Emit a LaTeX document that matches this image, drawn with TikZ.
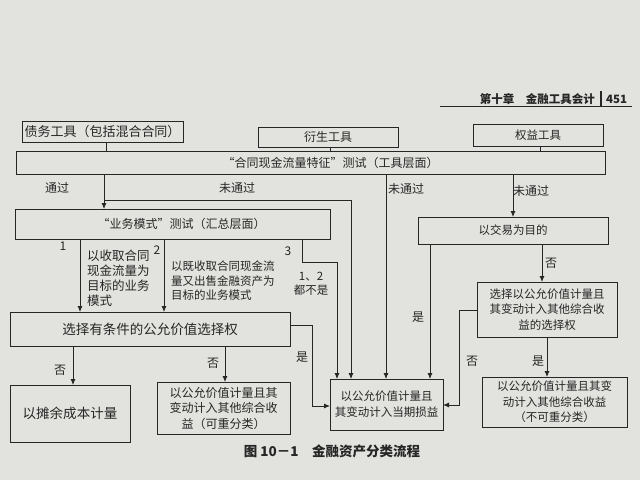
\documentclass[tikz,border=0pt]{standalone}
\usepackage{fontspec}
\setmainfont{Noto Sans CJK SC}
\usetikzlibrary{arrows.meta}
\definecolor{paper}{RGB}{226,226,222}
\definecolor{ink}{RGB}{38,38,38}
\newcommand\fsz[2]{\fontsize{#1}{#2}\selectfont}
\begin{document}
\begin{tikzpicture}[x=1pt,y=-1pt,
  box/.style={draw=ink, line width=0.8pt, fill=paper, inner sep=0pt, outer sep=0pt,
              align=center, text=ink, font=\fsz{12}{15.5}},
  lbl/.style={inner sep=0pt, text=ink, font=\fsz{12}{15}},
  ln/.style={draw=ink, line width=0.8pt},
  arr/.style={draw=ink, line width=0.8pt, -{Latex[length=6pt,width=5pt]}}]
\fill[paper] (0,0) rectangle (640,480);
\useasboundingbox (0,0) rectangle (640,480);

% header
\node[lbl, anchor=east, font=\fsz{11.5}{12}\bfseries] (hdr) at (595,99) {第十章\quad 金融工具会计};
\node[lbl, anchor=west, font=\fsz{11.5}{12}\bfseries] (page) at (606,99) {451};
\coordinate (hbar1) at (601,91);
\coordinate (hbar2) at (601,106);
\draw[ink, line width=1.4pt] (hbar1) -- (hbar2);
\coordinate (hl1) at (440,106);
\coordinate (hl2) at (632,106);
\draw[ink, line width=0.6pt] (hl1) -- (hl2);

% boxes
\node[box, minimum width=161, minimum height=21, font=\fsz{13}{15}] (debt) at (102.5,131.5) {债务工具（包括混合合同）};
\node[box, minimum width=140, minimum height=20] (deriv) at (328,137) {衍生工具};
\node[box, minimum width=130, minimum height=22, font=\fsz{11.5}{15}] (equity) at (538,135) {权益工具};
\node[box, minimum width=589, minimum height=23] (test) at (310.5,162.5) {\hspace*{40pt}“合同现金流量特征”测试（工具层面）};
\node[box, minimum width=315, minimum height=30] (bm) at (172.5,224) {\hspace*{18pt}“业务模式”测试（汇总层面）};
\node[box, minimum width=280, minimum height=34, font=\fsz{13.5}{15}] (opt) at (150,329) {选择有条件的公允价值选择权};
\node[box, minimum width=120, minimum height=57, font=\fsz{13.5}{15}] (ac) at (70,413.5) {以摊余成本计量};
\node[box, minimum width=133, minimum height=52] (fvd) at (223.5,408) {以公允价值计量且其\\变动计入其他综合收\\益（可重分类）};
\node[box, minimum width=113, minimum height=51, font=\fsz{11.5}{16}] (fvpl) at (386.5,404.5) {以公允价值计量且\\其变动计入当期损益};
\node[box, minimum width=190, minimum height=27, font=\fsz{11.5}{15}] (trade) at (513,230.5) {以交易为目的};
\node[box, minimum width=140, minimum height=55, font=\fsz{11.5}{15.5}] (eopt) at (547,309.5) {选择以公允价值计量且\\其变动计入其他综合收\\益的选择权};
\node[box, minimum width=145, minimum height=50, font=\fsz{11.5}{15.5}] (fve) at (554.5,402) {以公允价值计量且其变\\动计入其他综合收益\\（不可重分类）};

% x positions
\coordinate (c106) at (106,0);
\coordinate (c330) at (330,0);
\coordinate (c540) at (540,0);
\coordinate (c104) at (104,0);
\coordinate (c351) at (351,0);
\coordinate (c386) at (386,0);
\coordinate (c513) at (513,0);
\coordinate (c80) at (80,0);
\coordinate (c164) at (164,0);
\coordinate (c337) at (337,0);
\coordinate (c73) at (73,0);
\coordinate (c225) at (225,0);
\coordinate (c430) at (430,0);
\coordinate (c542) at (542,0);
\coordinate (c547) at (547,0);
\coordinate (br) at (104,200);
\coordinate (k3) at (302,262);
\coordinate (kyes) at (312,325);
\coordinate (kyes2) at (312,406);
\coordinate (kn1) at (459,310);
\coordinate (kn2) at (459,405);

% connectors
\draw[ln] (debt.south -| c106) -- (test.north -| c106);
\draw[ln] (deriv.south -| c330) -- (test.north -| c330);
\draw[ln] (equity.south -| c540) -- (test.north -| c540);
\draw[arr] (test.south -| c104) -- (bm.north -| c104);
\draw[arr] (br) -| (fvpl.north -| c351);
\draw[arr] (test.south -| c386) -- (fvpl.north -| c386);
\draw[arr] (test.south -| c513) -- (trade.north -| c513);
\draw[arr] (bm.south -| c80) -- (opt.north -| c80);
\draw[arr] (bm.south -| c164) -- (opt.north -| c164);
\draw[arr] (bm.south -| k3) -- (k3) -| (fvpl.north -| c337);
\draw[arr] (opt.east |- kyes) -- (kyes) -- (kyes2) -- (fvpl.west |- kyes2);
\draw[arr] (opt.south -| c73) -- (ac.north -| c73);
\draw[arr] (opt.south -| c225) -- (fvd.north -| c225);
\draw[arr] (trade.south -| c430) -- (fvpl.north -| c430);
\draw[arr] (trade.south -| c542) -- (eopt.north -| c542);
\draw[arr] (eopt.west |- kn1) -- (kn1) -- (kn2) -- (fvpl.east |- kn2);
\draw[arr] (eopt.south -| c547) -- (fve.north -| c547);

% labels
\node[lbl] (l1) at (57,188) {通过};
\node[lbl] (l2) at (237,188) {未通过};
\node[lbl] (l3) at (406,189) {未通过};
\node[lbl] (l4) at (531,191) {未通过};
\node[lbl] (n1) at (63,246) {1};
\node[lbl] (n2) at (157,250) {2};
\node[lbl] (n3) at (288,251) {3};
\node[lbl, anchor=north west, align=left, font=\fsz{12.5}{15}] (t1) at (87,250) {以收取合同\\现金流量为\\目标的业务\\模式};
\node[lbl, anchor=north west, align=left, font=\fsz{11.5}{14.5}] (t2) at (171,261) {以既收取合同现金流\\量又出售金融资产为\\目标的业务模式};
\node[lbl, align=center, font=\fsz{11.5}{14}] (t3) at (311,284) {1、2\\都不是};
\node[lbl] (no1) at (60,370) {否};
\node[lbl] (no2) at (213,363) {否};
\node[lbl] (yes1) at (302,357) {是};
\node[lbl] (yes2) at (418,317) {是};
\node[lbl] (no3) at (551,263) {否};
\node[lbl] (no4) at (472,361) {否};
\node[lbl] (yes3) at (538,361) {是};
\node[lbl, font=\fsz{13.5}{15}\bfseries] (cap) at (332,451) {图 10－1\quad 金融资产分类流程};
\end{tikzpicture}
\end{document}
